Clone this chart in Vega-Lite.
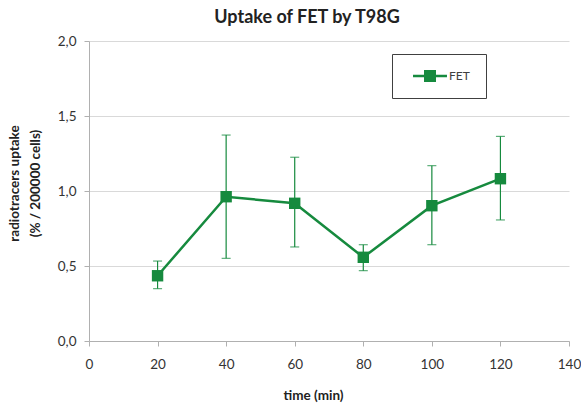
{
  "$schema": "https://vega.github.io/schema/vega-lite/v6.json",
  "autosize": "none",
  "padding": {"left": 89, "top": 41, "right": 12, "bottom": 65},
  "width": 480,
  "height": 300,
  "title": {"text": "Uptake of FET by T98G", "font": "Lato", "fontSize": 18, "fontWeight": "bold", "color": "#222222", "offset": 7, "anchor": "middle", "dx": -22},
  "data": {
    "values": [
      {"time": 20, "uptake": 0.435, "low": 0.349, "high": 0.533, "series": "FET"},
      {"time": 40, "uptake": 0.962, "low": 0.551, "high": 1.373, "series": "FET"},
      {"time": 60, "uptake": 0.918, "low": 0.627, "high": 1.225, "series": "FET"},
      {"time": 80, "uptake": 0.558, "low": 0.469, "high": 0.642, "series": "FET"},
      {"time": 100, "uptake": 0.902, "low": 0.642, "high": 1.169, "series": "FET"},
      {"time": 120, "uptake": 1.082, "low": 0.807, "high": 1.364, "series": "FET"}
    ]
  },
  "encoding": {
    "x": {
      "field": "time", "type": "quantitative", "title": "time (min)",
      "scale": {"domain": [0, 140], "nice": false},
      "axis": {"values": [0, 20, 40, 60, 80, 100, 120, 140], "grid": false, "labelPadding": 11, "titlePadding": 18, "titleX": 224}
    }
  },
  "layer": [
    {
      "mark": {"type": "rule", "color": "#168a3e", "strokeWidth": 1.2},
      "encoding": {
        "y": {"field": "low", "type": "quantitative"},
        "y2": {"field": "high"}
      }
    },
    {
      "mark": {"type": "tick", "orient": "horizontal", "color": "#168a3e", "size": 9, "thickness": 1.2},
      "encoding": {"y": {"field": "low", "type": "quantitative"}}
    },
    {
      "mark": {"type": "tick", "orient": "horizontal", "color": "#168a3e", "size": 9, "thickness": 1.2},
      "encoding": {"y": {"field": "high", "type": "quantitative"}}
    },
    {
      "mark": {"type": "line", "strokeWidth": 2.5, "color": "#168a3e"},
      "encoding": {
        "y": {
          "field": "uptake", "type": "quantitative",
          "title": ["radiotracers uptake", "(% / 200000 cells)"],
          "scale": {"domain": [0, 2], "nice": false},
          "axis": {"values": [0, 0.5, 1, 1.5, 2], "format": ".1f", "labelPadding": 8, "titlePadding": 15, "titleLineHeight": 21, "titleY": 142}
        }
      }
    },
    {
      "mark": {"type": "point", "shape": "square", "filled": true, "opacity": 1, "size": 130},
      "encoding": {
        "y": {"field": "uptake", "type": "quantitative"},
        "color": {
          "field": "series", "type": "nominal", "title": null,
          "scale": {"range": ["#168a3e"]},
          "legend": {
            "orient": "none", "legendX": 303, "legendY": 13,
            "symbolType": "M-2.83,-0.21H2.83V0.21H-2.83Z M-1,-1H1V1H-1Z",
            "symbolSize": 144, "symbolStrokeWidth": 0, "symbolOpacity": 1, "symbolOffset": 16,
            "labelFont": "Lato", "labelFontSize": 12, "labelColor": "#404040", "labelOffset": 13
          }
        }
      }
    }
  ],
  "config": {
    "locale": {"number": {"decimal": ",", "thousands": ".", "grouping": [3], "currency": ["", ""]}},
    "view": {"stroke": null},
    "legend": {"padding": 16, "strokeColor": "#404040", "fillColor": "white"},
    "axis": {
      "labelFont": "Lato", "labelFontSize": 13.5, "labelColor": "#333333", "labelFlush": false,
      "titleFont": "Lato", "titleFontSize": 13.5, "titleFontWeight": "bold", "titleColor": "#222222",
      "domainColor": "#b0b0b0", "tickColor": "#b0b0b0", "tickSize": 5,
      "gridColor": "#d9d9d9", "gridWidth": 1.2
    }
  }
}
